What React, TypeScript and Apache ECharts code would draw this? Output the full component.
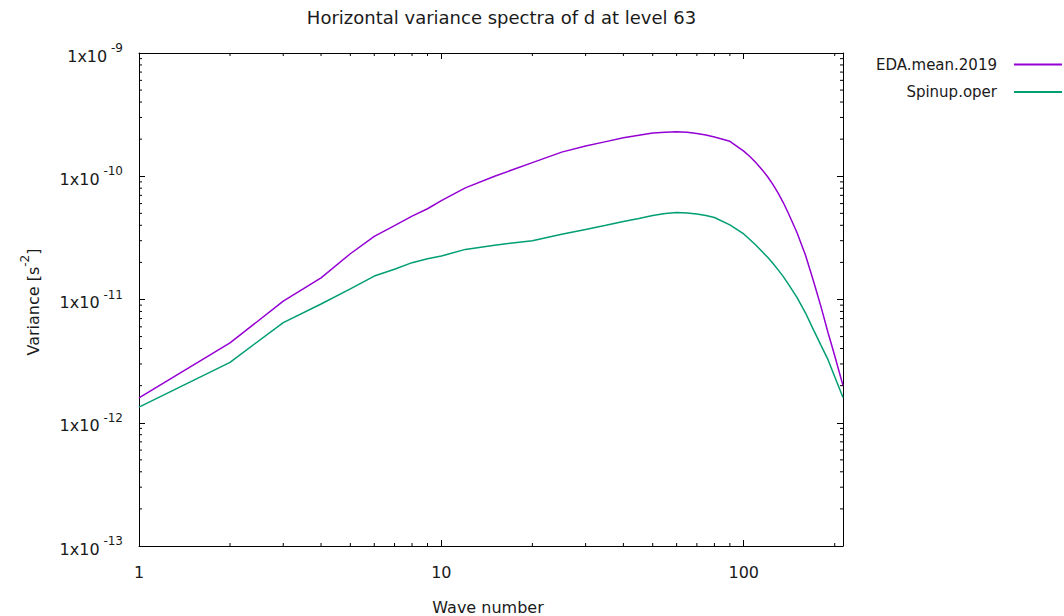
import React, { useEffect, useRef } from "react";
import * as echarts from "echarts";

const waveNumbers = [1, 2, 3, 4, 5, 6, 7, 8, 9, 10, 12, 15, 20, 25, 30, 35, 40, 45, 50, 55, 60, 65, 70, 75, 80, 90, 100, 105, 110, 115, 120, 125, 130, 135, 140, 150, 160, 170, 180, 190, 200, 213];
const edaMean2019 = [1.59e-12, 4.44e-12, 9.7e-12, 1.5e-11, 2.35e-11, 3.25e-11, 3.98e-11, 4.75e-11, 5.45e-11, 6.35e-11, 8.05e-11, 1.0e-10, 1.29e-10, 1.57e-10, 1.76e-10, 1.91e-10, 2.05e-10, 2.15e-10, 2.24e-10, 2.28e-10, 2.3e-10, 2.28e-10, 2.22e-10, 2.16e-10, 2.08e-10, 1.92e-10, 1.6e-10, 1.44e-10, 1.28e-10, 1.13e-10, 9.9e-11, 8.55e-11, 7.3e-11, 6.15e-11, 5.1e-11, 3.5e-11, 2.3e-11, 1.42e-11, 8.8e-12, 5.4e-12, 3.5e-12, 2.0e-12];
const spinupOper = [1.34e-12, 3.09e-12, 6.5e-12, 9.2e-12, 1.22e-11, 1.55e-11, 1.76e-11, 1.99e-11, 2.14e-11, 2.25e-11, 2.55e-11, 2.76e-11, 3.0e-11, 3.38e-11, 3.7e-11, 4.0e-11, 4.3e-11, 4.55e-11, 4.8e-11, 4.98e-11, 5.07e-11, 5.03e-11, 4.93e-11, 4.8e-11, 4.63e-11, 4.03e-11, 3.4e-11, 3.05e-11, 2.74e-11, 2.45e-11, 2.2e-11, 1.96e-11, 1.74e-11, 1.54e-11, 1.35e-11, 1.04e-11, 7.8e-12, 5.7e-12, 4.27e-12, 3.25e-12, 2.36e-12, 1.6e-12];

const seriesNames = ["EDA.mean.2019", "Spinup.oper"];
const seriesColors = ["#9400D3", "#009E73"];

const X_MIN = 1;
const X_MAX = 213;
const Y_MIN = 1e-13;
const Y_MAX = 1e-9;
const minorMantissas = [2, 3, 4, 5, 6, 7, 8, 9];
const xDecades = [1, 10, 100];
const yDecades = [1e-13, 1e-12, 1e-11, 1e-10];

const xMinorTicks = xDecades.flatMap((d) => minorMantissas.map((m) => m * d)).filter((v) => v < X_MAX);
const yMinorTicks = yDecades.flatMap((d) => minorMantissas.map((m) => m * d));

const FONT = "DejaVu Sans";
const TEXT_COLOR = "#1a1a1a";

export default function App() {
  const ref = useRef<HTMLDivElement>(null);
  useEffect(() => {
    if (!ref.current) return;
    const chart = echarts.init(ref.current, undefined, { renderer: "svg" });
    const isPow10 = (v: number) => Math.abs(Math.log10(v) - Math.round(Math.log10(v))) < 1e-6;
    const axisCommon = {
      type: "log" as const,
      logBase: 10,
      axisLine: { show: true, lineStyle: { color: "#000", width: 1 } },
      axisTick: { show: true, inside: true, length: 6, lineStyle: { color: "#000", width: 1 } },
      splitLine: { show: false },
      minorTick: { show: false },
    };
    const tickLine = (x1: number, y1: number, x2: number, y2: number) => ({
      type: "line",
      shape: { x1, y1, x2, y2 },
      style: { stroke: "#000", lineWidth: 1 },
    });
    chart.setOption({
      animation: false,
      backgroundColor: "#fff",
      textStyle: { fontFamily: FONT, color: TEXT_COLOR },
      grid: { left: 139, right: 221, top: 53, bottom: 70, containLabel: false },
      legend: {
        data: seriesNames,
        orient: "vertical",
        right: 1,
        top: 57,
        padding: 0,
        align: "right",
        itemWidth: 48,
        itemHeight: 14,
        itemGap: 12.4,
        itemStyle: { opacity: 0 },
        textStyle: { fontSize: 15, fontFamily: FONT, color: TEXT_COLOR, padding: [0, 12, 0, 0] },
        selectedMode: false,
      },
      xAxis: [
        {
          ...axisCommon,
          position: "bottom",
          min: X_MIN,
          max: X_MAX,
          axisLabel: {
            show: true,
            margin: 18,
            fontSize: 16,
            fontFamily: FONT,
            color: TEXT_COLOR,
            formatter: (v: number) => (isPow10(v) ? String(Math.round(v)) : ""),
          },
        },
        {
          ...axisCommon,
          position: "top",
          min: X_MIN,
          max: X_MAX,
          axisLabel: { show: false },
        },
      ],
      yAxis: [
        {
          ...axisCommon,
          position: "left",
          min: Y_MIN,
          max: Y_MAX,
          axisLabel: {
            show: true,
            margin: 16,
            fontFamily: FONT,
            color: TEXT_COLOR,
            formatter: (v: number) => {
              if (!isPow10(v)) return "";
              const e = Math.round(Math.log10(v));
              return `{a|1x10}{s| ${e}}`;
            },
            rich: {
              a: { fontSize: 16, fontFamily: FONT, color: TEXT_COLOR, lineHeight: 22, verticalAlign: "bottom", padding: [6, 0, 0, 0] },
              s: { fontSize: 12, fontFamily: FONT, color: TEXT_COLOR, lineHeight: 12, verticalAlign: "top" },
            },
          },
        },
        {
          ...axisCommon,
          position: "right",
          min: Y_MIN,
          max: Y_MAX,
          axisLabel: { show: false },
        },
      ],
      graphic: [
        {
          type: "text",
          x: 501.5,
          y: 17,
          style: {
            text: "Horizontal variance spectra of d at level 63",
            fontSize: 18,
            fontFamily: FONT,
            fill: TEXT_COLOR,
            align: "center",
            verticalAlign: "middle",
          },
        },
        {
          type: "text",
          x: 488,
          y: 607,
          style: {
            text: "Wave number",
            fontSize: 16,
            fontFamily: FONT,
            fill: TEXT_COLOR,
            align: "center",
            verticalAlign: "middle",
          },
        },
        {
          type: "text",
          x: 30,
          y: 302,
          rotation: Math.PI / 2,
          style: {
            text: "{a|Variance [s}{s|-2}{a|]}",
            rich: {
              a: { fontSize: 16, fontFamily: FONT, fill: TEXT_COLOR, lineHeight: 22, verticalAlign: "bottom", padding: [6, 0, 0, 0] },
              s: { fontSize: 12, fontFamily: FONT, fill: TEXT_COLOR, lineHeight: 12, verticalAlign: "top" },
            },
            align: "center",
            verticalAlign: "middle",
          },
        },
      ],
      series: [
        {
          name: seriesNames[0],
          type: "line",
          data: waveNumbers.map((k, i) => [k, edaMean2019[i]]),
          showSymbol: false,
          symbol: "none",
          smooth: false,
          color: seriesColors[0],
          lineStyle: { color: seriesColors[0], width: 1.5 },
          z: 3,
        },
        {
          name: seriesNames[1],
          type: "line",
          data: waveNumbers.map((k, i) => [k, spinupOper[i]]),
          showSymbol: false,
          symbol: "none",
          smooth: false,
          color: seriesColors[1],
          lineStyle: { color: seriesColors[1], width: 1.5 },
          z: 3,
        },
        {
          name: "xMinor",
          type: "custom",
          silent: true,
          data: xMinorTicks.map((k) => [k, Y_MIN]),
          renderItem: (_p: any, api: any) => {
            const k = api.value(0);
            const b = api.coord([k, Y_MIN]);
            const t = api.coord([k, Y_MAX]);
            return {
              type: "group",
              children: [tickLine(b[0], b[1], b[0], b[1] - 3), tickLine(t[0], t[1], t[0], t[1] + 3)],
            };
          },
          z: 4,
        },
        {
          name: "yMinor",
          type: "custom",
          silent: true,
          data: yMinorTicks.map((v) => [X_MIN, v]),
          renderItem: (_p: any, api: any) => {
            const v = api.value(1);
            const l = api.coord([X_MIN, v]);
            const r = api.coord([X_MAX, v]);
            return {
              type: "group",
              children: [tickLine(l[0], l[1], l[0] + 3, l[1]), tickLine(r[0], r[1], r[0] - 3, r[1])],
            };
          },
          z: 4,
        },
      ],
    });
    return () => chart.dispose();
  }, []);
  return <div ref={ref} style={{ position: "fixed", left: 0, top: 0, width: 1064, height: 616 }} />;
}
